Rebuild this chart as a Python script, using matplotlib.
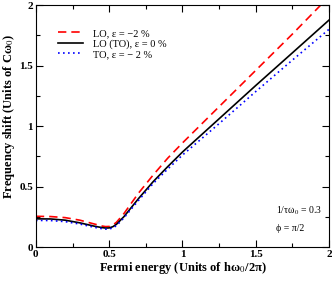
import numpy as np
import matplotlib
matplotlib.use('Agg')
import matplotlib.pyplot as plt
from matplotlib.ticker import MultipleLocator, FuncFormatter

plt.rcParams['font.family'] = ['Liberation Serif', 'DejaVu Serif']
plt.rcParams['mathtext.fontset'] = 'stix'

# Fermi energy (units of h w0 / 2pi)
x = [0, 0.1, 0.2, 0.3, 0.4, 0.45, 0.475, 0.5, 0.525, 0.55, 0.6, 0.65, 0.7, 0.8, 0.9, 1.0, 1.25, 1.5, 1.75, 2.0]
# frequency shift (units of C w0)
lo_m2 = [0.254, 0.252, 0.243, 0.222, 0.19, 0.174, 0.169, 0.17, 0.182, 0.205, 0.275, 0.36, 0.445, 0.595, 0.735, 0.86, 1.16, 1.46, 1.76, 2.07]
lo_0 = [0.233, 0.232, 0.222, 0.2, 0.172, 0.161, 0.157, 0.158, 0.168, 0.188, 0.25, 0.325, 0.4, 0.54, 0.665, 0.785, 1.06, 1.335, 1.605, 1.876]
to_m2 = [0.22, 0.219, 0.21, 0.19, 0.163, 0.152, 0.148, 0.149, 0.158, 0.177, 0.24, 0.313, 0.385, 0.525, 0.645, 0.76, 1.02, 1.285, 1.545, 1.80]

labels = ['LO, ε = −2 %', 'LO (TO), ε = 0 %', 'TO, ε = − 2 %']

fig = plt.figure(figsize=(3.32, 2.82), dpi=100)
ax = fig.add_axes([0.108, 0.124, 0.883, 0.858])

ax.plot(x, lo_m2, color='#ff0000', ls=(0, (5, 3)), lw=1.2, label=labels[0])
ax.plot(x, lo_0, color='black', ls='-', lw=1.2, label=labels[1])
ax.plot(x, to_m2, color='#0000ff', ls=(0, (1, 2)), lw=1.2, label=labels[2])

ax.set_xlim(0, 2)
ax.set_ylim(0, 2)
ax.xaxis.set_major_locator(MultipleLocator(0.5))
ax.xaxis.set_minor_locator(MultipleLocator(0.25))
ax.yaxis.set_major_locator(MultipleLocator(0.5))
ax.yaxis.set_minor_locator(MultipleLocator(0.25))
fmt = FuncFormatter(lambda v, p: '%g' % v)
ax.xaxis.set_major_formatter(fmt)
ax.yaxis.set_major_formatter(fmt)
ax.tick_params(which='both', direction='in', top=True, right=True, width=0.8)
ax.tick_params(which='major', length=5, labelsize=8, pad=2)
ax.tick_params(which='minor', length=3)
for t in ax.get_xticklabels() + ax.get_yticklabels():
    t.set_fontweight('bold')

ax.set_xlabel('Fermi energy (Units of hω$_0$/2π)', fontsize=9, fontweight='bold', labelpad=1)
ax.set_ylabel('Frequency shift (Units of Cω$_0$)', fontsize=9, fontweight='bold')
ax.yaxis.set_label_coords(-0.066, 0.54)

ax.legend(loc='upper left', bbox_to_anchor=(0.06, 0.92), frameon=False, fontsize=7.5,
          handlelength=2.4, handletextpad=1.0, labelspacing=0.1, borderaxespad=0)

ax.text(0.82, 0.14, '1/τω$_0$ = 0.3', transform=ax.transAxes, fontsize=7)
ax.text(0.82, 0.065, 'ϕ = π/2', transform=ax.transAxes, fontsize=7)

fig.savefig('out.png', dpi=100)
